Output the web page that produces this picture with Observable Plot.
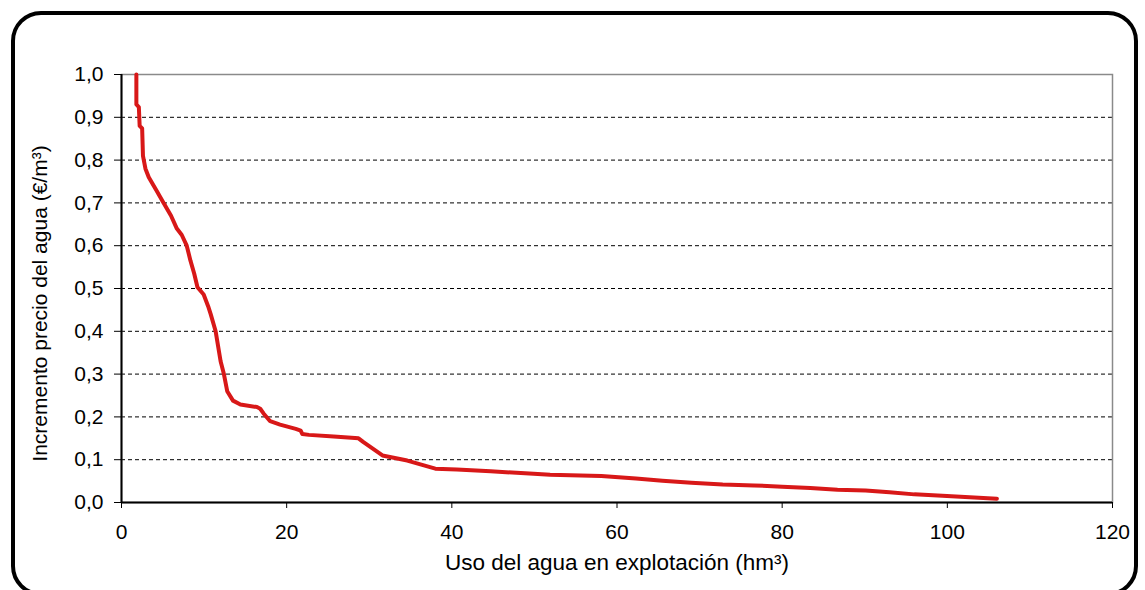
<!DOCTYPE html>
<html>
<head>
<meta charset="utf-8">
<script src="https://cdn.jsdelivr.net/npm/d3@7"></script>
<script src="https://cdn.jsdelivr.net/npm/@observablehq/plot@0.6"></script>
<style>
  body { margin: 0; background: #fff; }
  #wrap { position: relative; width: 1145px; height: 590px; overflow: hidden; background: #fff; }
  #border { position: absolute; left: 11px; top: 11px; width: 1127px; height: 585px;
            border: 4px solid #000; border-radius: 30px; box-sizing: border-box; pointer-events: none; }
  #chart { position: absolute; left: 0; top: 0; }
</style>
</head>
<body>
<div id="wrap"><div id="chart"></div><div id="border"></div></div>
<script>
// Water use (hm3) and water price increment (€/m3)
const waterUse = [1.8, 1.8, 2.1, 2.2, 2.5, 2.6, 2.9, 3.3, 4.2, 5.1, 6.0, 6.7, 7.3, 7.9, 8.35, 8.8, 9.2, 9.95, 10.5, 10.8, 11.4, 12.0, 12.4, 12.8, 13.5, 14.4, 16.4, 16.8, 17.2, 18.0, 19.2, 21.1, 21.7, 21.9, 22.7, 25.7, 28.7, 29.3, 31.6, 34.6, 38.0, 40.6, 44.7, 49.9, 51.9, 58.1, 62.3, 65.5, 69.0, 72.8, 76.6, 80.0, 83.4, 86.7, 90.1, 93.0, 96.0, 99.4, 102.7, 106.0];
const priceIncrement = [1.0, 0.93, 0.924, 0.88, 0.874, 0.81, 0.78, 0.76, 0.73, 0.70, 0.67, 0.64, 0.625, 0.60, 0.565, 0.535, 0.503, 0.486, 0.458, 0.44, 0.40, 0.33, 0.30, 0.26, 0.238, 0.229, 0.223, 0.219, 0.208, 0.19, 0.182, 0.172, 0.168, 0.16, 0.158, 0.154, 0.150, 0.141, 0.110, 0.098, 0.079, 0.077, 0.073, 0.067, 0.065, 0.062, 0.056, 0.051, 0.046, 0.042, 0.040, 0.037, 0.034, 0.030, 0.028, 0.024, 0.019, 0.016, 0.012, 0.009];
const xTicks = [0, 20, 40, 60, 80, 100, 120];
const yTicks = [0, 0.1, 0.2, 0.3, 0.4, 0.5, 0.6, 0.7, 0.8, 0.9, 1.0];
const gridTicks = [0.1, 0.2, 0.3, 0.4, 0.5, 0.6, 0.7, 0.8, 0.9];
const xTitle = "Uso del agua en explotación (hm³)";
const yTitle = "Incremento precio del agua (€/m³)";

const data = waterUse.map((x, i) => ({x, y: priceIncrement[i]}));
const fmt = d => d.toFixed(1).replace(".", ",");

const chart = Plot.plot({
  width: 1145,
  height: 590,
  marginLeft: 121,
  marginRight: 33,
  marginTop: 74,
  marginBottom: 88,
  style: {fontFamily: "'Liberation Sans', Arial, sans-serif", fontSize: "21px", color: "#000", background: "transparent"},
  x: {domain: [0, 120]},
  y: {domain: [0, 1]},
  marks: [
    Plot.gridY(gridTicks, {stroke: "#000", strokeOpacity: 1, strokeWidth: 1, strokeDasharray: "4,3"}),
    Plot.frame({stroke: "#8a8a8a", strokeWidth: 1.5}),
    Plot.ruleX([0], {stroke: "#000", strokeWidth: 2}),
    Plot.ruleY([0], {stroke: "#000", strokeWidth: 2}),
    Plot.axisX({ticks: xTicks, tickSize: 6, tickPadding: 16, label: null, stroke: "#000", fontSize: 21}),
    Plot.axisY({ticks: yTicks, tickSize: 7, tickPadding: 11, tickFormat: fmt, label: null, stroke: "#000", fontSize: 21}),
    Plot.line(data, {x: "x", y: "y", stroke: "#d81818", strokeWidth: 4, strokeLinejoin: "round", strokeLinecap: "round"}),
    Plot.text([xTitle], {frameAnchor: "bottom", dy: 67, fontSize: 22.5, fill: "#000"}),
    Plot.text([yTitle], {frameAnchor: "left", textAnchor: "middle", dx: -81, dy: 15, rotate: -90, fontSize: 21, fill: "#000"})
  ]
});
document.getElementById("chart").appendChild(chart);
</script>
</body>
</html>
